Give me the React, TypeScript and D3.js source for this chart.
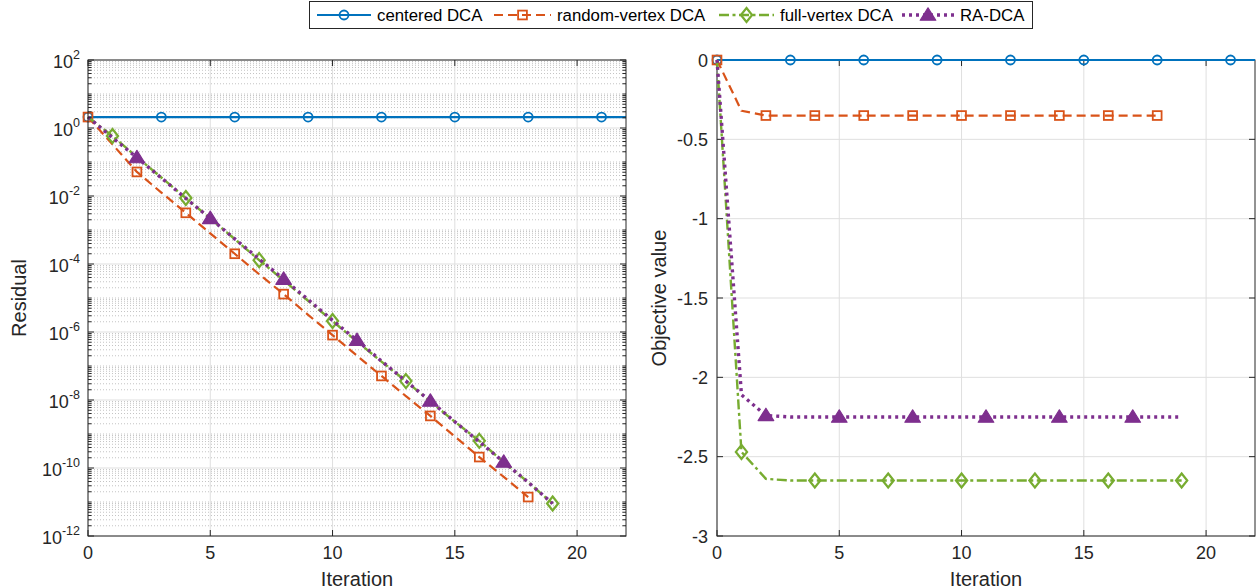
import { useEffect, useRef } from 'react'
import * as d3 from 'd3'

const legendNames = ['centered DCA', 'random-vertex DCA', 'full-vertex DCA', 'RA-DCA']
const iterTicks = [0, 5, 10, 15, 20]
const residualExps = [2, 0, -2, -4, -6, -8, -10, -12]
const objectiveTicks = [0, -0.5, -1, -1.5, -2, -2.5, -3]

// residual per iteration (left panel)
const resCentered = [2.1, 2.1, 2.1, 2.1, 2.1, 2.1, 2.1, 2.1, 2.1, 2.1, 2.1, 2.1, 2.1, 2.1, 2.1, 2.1, 2.1, 2.1, 2.1, 2.1, 2.1, 2.1, 2.1]
const resRandom = [2.1, 0.33, 0.051, 0.0126, 3.2e-3, 8e-4, 2e-4, 5e-5, 1.3e-5, 3.2e-6, 8.1e-7, 2e-7, 5.1e-8, 1.3e-8, 3.4e-9, 8.5e-10, 2.1e-10, 5.5e-11, 1.4e-11]
const resFull = [2.1, 0.58, 0.14, 0.035, 8.7e-3, 2.2e-3, 5.4e-4, 1.3e-4, 3.3e-5, 8.3e-6, 2.1e-6, 5.2e-7, 1.35e-7, 3.6e-8, 9e-9, 2.3e-9, 6.3e-10, 1.5e-10, 3.8e-11, 9e-12]
const resRA = [2.1, 0.52, 0.135, 0.034, 8.5e-3, 2.2e-3, 5.5e-4, 1.4e-4, 3.6e-5, 9e-6, 2.2e-6, 5.7e-7, 1.4e-7, 3.6e-8, 9.3e-9, 2.3e-9, 5.9e-10, 1.5e-10, 3.8e-11, 9e-12]

// objective value per iteration (right panel)
const objCentered = [0, 0, 0, 0, 0, 0, 0, 0, 0, 0, 0, 0, 0, 0, 0, 0, 0, 0, 0, 0, 0, 0, 0]
const objRandom = [0, -0.32, -0.35, -0.35, -0.35, -0.35, -0.35, -0.35, -0.35, -0.35, -0.35, -0.35, -0.35, -0.35, -0.35, -0.35, -0.35, -0.35, -0.35]
const objFull = [0, -2.47, -2.64, -2.65, -2.65, -2.65, -2.65, -2.65, -2.65, -2.65, -2.65, -2.65, -2.65, -2.65, -2.65, -2.65, -2.65, -2.65, -2.65, -2.65]
const objRA = [0, -2.11, -2.24, -2.25, -2.25, -2.25, -2.25, -2.25, -2.25, -2.25, -2.25, -2.25, -2.25, -2.25, -2.25, -2.25, -2.25, -2.25, -2.25, -2.25]

const FONT = 'Liberation Sans, Arial, Helvetica, sans-serif'
const AX = '#262626'

interface Style {
  color: string
  dash: string
  width: number
  marker: 'circle' | 'square' | 'diamond' | 'triangle'
  start: number
  step: number
}

const styles: Style[] = [
  { color: '#0072BD', dash: '', width: 2.2, marker: 'circle', start: 0, step: 3 },
  { color: '#D95319', dash: '9,5', width: 2.2, marker: 'square', start: 0, step: 2 },
  { color: '#77AC30', dash: '10,3.5,3,3.5', width: 2.4, marker: 'diamond', start: 1, step: 3 },
  { color: '#7E2F8E', dash: '3,4', width: 3.4, marker: 'triangle', start: 2, step: 3 },
]

function drawMarker(g: d3.Selection<SVGGElement, unknown, null, undefined>, s: Style, x: number, y: number) {
  if (s.marker === 'circle') {
    g.append('circle').attr('cx', x).attr('cy', y).attr('r', 4.5)
      .attr('fill', 'none').attr('stroke', s.color).attr('stroke-width', 1.8)
  } else if (s.marker === 'square') {
    g.append('rect').attr('x', x - 4.4).attr('y', y - 4.4).attr('width', 8.8).attr('height', 8.8)
      .attr('fill', 'none').attr('stroke', s.color).attr('stroke-width', 1.8)
  } else if (s.marker === 'diamond') {
    g.append('path').attr('d', `M${x},${y - 7}L${x + 5.6},${y}L${x},${y + 7}L${x - 5.6},${y}Z`)
      .attr('fill', 'none').attr('stroke', s.color).attr('stroke-width', 2.2)
  } else {
    g.append('path').attr('d', `M${x},${y - 7.2}L${x + 7.8},${y + 5.2}L${x - 7.8},${y + 5.2}Z`)
      .attr('fill', s.color).attr('stroke', s.color).attr('stroke-width', 1.2).attr('stroke-linejoin', 'round')
  }
}

export default function App() {
  const svgRef = useRef<SVGSVGElement>(null)

  useEffect(() => {
    if (!svgRef.current) return
    const svg = d3.select(svgRef.current)
    svg.selectAll('*').remove()

    const top = 60
    const bottom = 536

    // ---------- left panel: residual (log scale) ----------
    const xL = d3.scaleLinear().domain([0, 22]).range([88, 626])
    const yL = d3.scaleLog().domain([1e-12, 1e2]).range([bottom, top])
    const gL = svg.append('g')

    // minor grid + major grid
    const minorVals: number[] = []
    for (let e = -12; e < 2; e++) {
      for (let k = 1; k <= 9; k++) {
        const v = k * Math.pow(10, e)
        if (k === 1 && e % 2 === 0) continue
        minorVals.push(v)
      }
    }
    gL.append('g').selectAll('line').data(minorVals).join('line')
      .attr('x1', xL(0)).attr('x2', xL(22)).attr('y1', d => yL(d)).attr('y2', d => yL(d))
      .attr('stroke', '#c4c4c4').attr('stroke-width', 1).attr('stroke-dasharray', '1,2')
    gL.append('g').selectAll('line').data(residualExps).join('line')
      .attr('x1', xL(0)).attr('x2', xL(22)).attr('y1', d => yL(Math.pow(10, d))).attr('y2', d => yL(Math.pow(10, d)))
      .attr('stroke', '#dfdfdf').attr('stroke-width', 1)
    gL.append('g').selectAll('line').data(iterTicks).join('line')
      .attr('x1', d => xL(d)).attr('x2', d => xL(d)).attr('y1', top).attr('y2', bottom)
      .attr('stroke', '#dfdfdf').attr('stroke-width', 1)

    const resSeries = [resCentered, resRandom, resFull, resRA]
    const lineL = d3.line<number>().x((_, i) => xL(i)).y(d => yL(d))
    resSeries.forEach((data, si) => {
      const s = styles[si]
      const g = gL.append('g')
      g.append('path').attr('d', lineL(data) || '').attr('fill', 'none')
        .attr('stroke', s.color).attr('stroke-width', s.width).attr('stroke-dasharray', s.dash)
        .attr('stroke-linejoin', 'round')
      data.forEach((v, i) => {
        if (i >= s.start && (i - s.start) % s.step === 0) drawMarker(g, s, xL(i), yL(v))
      })
    })

    // frame and ticks
    gL.append('rect').attr('x', xL(0)).attr('y', top).attr('width', xL(22) - xL(0)).attr('height', bottom - top)
      .attr('fill', 'none').attr('stroke', AX).attr('stroke-width', 1)
    const tl = gL.append('g').attr('stroke', AX).attr('stroke-width', 1)
    minorVals.forEach(v => {
      tl.append('line').attr('x1', xL(0)).attr('x2', xL(0) + 3.5).attr('y1', yL(v)).attr('y2', yL(v))
      tl.append('line').attr('x1', xL(22)).attr('x2', xL(22) - 3.5).attr('y1', yL(v)).attr('y2', yL(v))
    })
    residualExps.forEach(e => {
      const y = yL(Math.pow(10, e))
      tl.append('line').attr('x1', xL(0)).attr('x2', xL(0) + 6).attr('y1', y).attr('y2', y)
      tl.append('line').attr('x1', xL(22)).attr('x2', xL(22) - 6).attr('y1', y).attr('y2', y)
      const t = gL.append('text').attr('x', xL(0) - 8).attr('y', y + 8).attr('text-anchor', 'end')
        .attr('font-family', FONT).attr('font-size', 18).attr('fill', AX)
      t.append('tspan').text('10')
      t.append('tspan').attr('dy', -9).attr('font-size', 12.5).text(String(e))
    })
    iterTicks.forEach(v => {
      tl.append('line').attr('x1', xL(v)).attr('x2', xL(v)).attr('y1', bottom).attr('y2', bottom - 6)
      tl.append('line').attr('x1', xL(v)).attr('x2', xL(v)).attr('y1', top).attr('y2', top + 6)
      gL.append('text').attr('x', xL(v)).attr('y', bottom + 23).attr('text-anchor', 'middle')
        .attr('font-family', FONT).attr('font-size', 18).attr('fill', AX).text(String(v))
    })
    gL.append('text').attr('x', (xL(0) + xL(22)) / 2).attr('y', 586).attr('text-anchor', 'middle')
      .attr('font-family', FONT).attr('font-size', 20).attr('fill', AX).text('Iteration')
    gL.append('text').attr('transform', `translate(26,${(top + bottom) / 2}) rotate(-90)`).attr('text-anchor', 'middle')
      .attr('font-family', FONT).attr('font-size', 20).attr('fill', AX).text('Residual')

    // ---------- right panel: objective value ----------
    const xR = d3.scaleLinear().domain([0, 22]).range([717, 1255])
    const yR = d3.scaleLinear().domain([-3, 0]).range([bottom, top])
    const gR = svg.append('g')

    gR.append('g').selectAll('line').data(objectiveTicks).join('line')
      .attr('x1', xR(0)).attr('x2', xR(22)).attr('y1', d => yR(d)).attr('y2', d => yR(d))
      .attr('stroke', '#dfdfdf').attr('stroke-width', 1)
    gR.append('g').selectAll('line').data(iterTicks).join('line')
      .attr('x1', d => xR(d)).attr('x2', d => xR(d)).attr('y1', top).attr('y2', bottom)
      .attr('stroke', '#dfdfdf').attr('stroke-width', 1)

    gR.append('rect').attr('x', xR(0)).attr('y', top).attr('width', xR(22) - xR(0)).attr('height', bottom - top)
      .attr('fill', 'none').attr('stroke', AX).attr('stroke-width', 1)
    const tr = gR.append('g').attr('stroke', AX).attr('stroke-width', 1)
    objectiveTicks.forEach(v => {
      const y = yR(v)
      tr.append('line').attr('x1', xR(0)).attr('x2', xR(0) + 6).attr('y1', y).attr('y2', y)
      tr.append('line').attr('x1', xR(22)).attr('x2', xR(22) - 6).attr('y1', y).attr('y2', y)
      gR.append('text').attr('x', xR(0) - 9).attr('y', y + 6.5).attr('text-anchor', 'end')
        .attr('font-family', FONT).attr('font-size', 18).attr('fill', AX).text(String(v))
    })
    iterTicks.forEach(v => {
      tr.append('line').attr('x1', xR(v)).attr('x2', xR(v)).attr('y1', bottom).attr('y2', bottom - 6)
      tr.append('line').attr('x1', xR(v)).attr('x2', xR(v)).attr('y1', top).attr('y2', top + 6)
      gR.append('text').attr('x', xR(v)).attr('y', bottom + 23).attr('text-anchor', 'middle')
        .attr('font-family', FONT).attr('font-size', 18).attr('fill', AX).text(String(v))
    })

    const objSeries = [objCentered, objRandom, objFull, objRA]
    const lineR = d3.line<number>().x((_, i) => xR(i)).y(d => yR(d))
    objSeries.forEach((data, si) => {
      const s = styles[si]
      const g = gR.append('g')
      g.append('path').attr('d', lineR(data) || '').attr('fill', 'none')
        .attr('stroke', s.color).attr('stroke-width', s.width).attr('stroke-dasharray', s.dash)
        .attr('stroke-linejoin', 'round')
      data.forEach((v, i) => {
        if (i >= s.start && (i - s.start) % s.step === 0) drawMarker(g, s, xR(i), yR(v))
      })
    })

    gR.append('text').attr('x', (xR(0) + xR(22)) / 2).attr('y', 586).attr('text-anchor', 'middle')
      .attr('font-family', FONT).attr('font-size', 20).attr('fill', AX).text('Iteration')
    gR.append('text').attr('transform', `translate(666,${(top + bottom) / 2}) rotate(-90)`).attr('text-anchor', 'middle')
      .attr('font-family', FONT).attr('font-size', 20).attr('fill', AX).text('Objective value')

    // ---------- legend ----------
    const lg = svg.append('g')
    lg.append('rect').attr('x', 309.5).attr('y', 1.5).attr('width', 723).attr('height', 27)
      .attr('fill', '#fff').attr('stroke', AX).attr('stroke-width', 1)
    const items = [
      { x1: 317, x2: 371 },
      { x1: 494, x2: 551 },
      { x1: 719, x2: 774 },
      { x1: 902, x2: 954 },
    ]
    items.forEach((it, i) => {
      const s = styles[i]
      const g = lg.append('g')
      g.append('line').attr('x1', it.x1).attr('x2', it.x2).attr('y1', 15).attr('y2', 15)
        .attr('stroke', s.color).attr('stroke-width', s.width).attr('stroke-dasharray', s.dash)
      drawMarker(g, s, (it.x1 + it.x2) / 2, 15)
      lg.append('text').attr('x', it.x2 + 6).attr('y', 21).attr('font-family', FONT).attr('font-size', 16.8)
        .attr('fill', '#000').text(legendNames[i])
    })
  }, [])

  return (
    <div style={{ position: 'absolute', left: 0, top: 0, background: '#fff' }}>
      <svg ref={svgRef} width={1256} height={587} style={{ display: 'block' }} />
    </div>
  )
}
